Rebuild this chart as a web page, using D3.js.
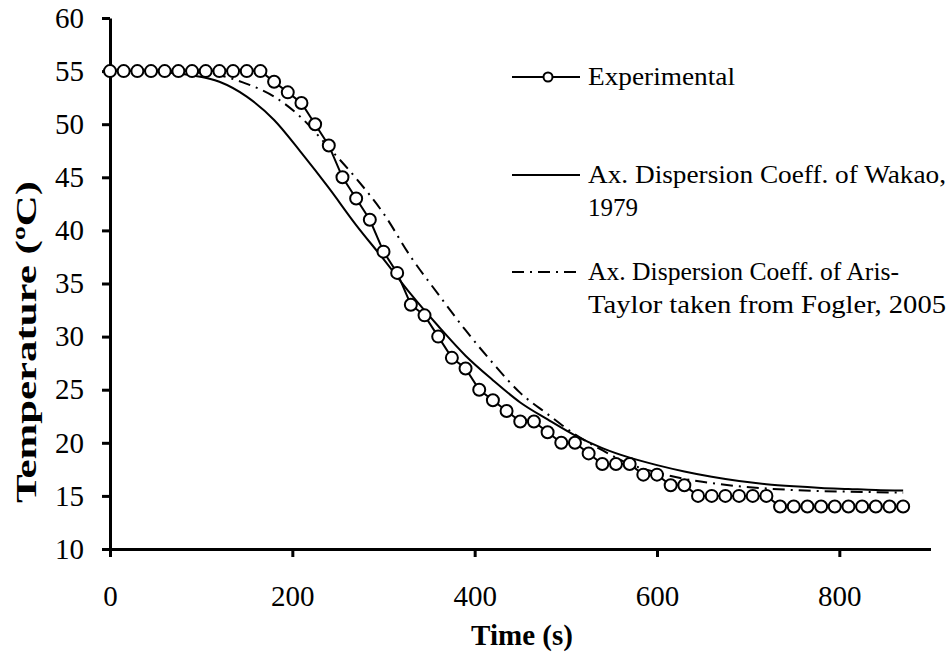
<!DOCTYPE html>
<html>
<head>
<meta charset="utf-8">
<script src="https://cdn.jsdelivr.net/npm/d3@7"></script>
<style>
  html, body { margin: 0; padding: 0; background: #fff; }
  svg { display: block; }
  text { font-family: "Liberation Serif", "Times New Roman", Times, serif; fill: #000; }
</style>
</head>
<body>
<svg id="chart" width="952" height="664"></svg>
<script>
// ---- Data ----
const expTime = [0,15,30,45,60,75,90,105,120,135,150,165,180,195,210,225,240,255,270,285,300,315,330,345,360,375,390,405,420,435,450,465,480,495,510,525,540,555,570,585,600,615,630,645,660,675,690,705,720,735,750,765,780,795,810,825,840,855,870];
const expTemp = [55,55,55,55,55,55,55,55,55,55,55,55,54,53,52,50,48,45,43,41,38,36,33,32,30,28,27,25,24,23,22,22,21,20,20,19,18,18,18,17,17,16,16,15,15,15,15,15,15,14,14,14,14,14,14,14,14,14,14];

const modelTime = [0,30,60,90,120,150,180,210,240,270,300,330,360,390,420,450,480,510,540,570,600,630,660,690,720,750,780,810,840,870];
const wakaoTemp = [55,55,54.9,54.6,54.0,52.6,50.4,47.3,44.0,40.5,37.3,34.0,31.0,28.2,25.9,23.8,22.2,20.7,19.5,18.6,17.9,17.3,16.8,16.4,16.1,15.9,15.75,15.65,15.55,15.5];
const arisTemp  = [55,55,55,54.9,54.6,53.8,52.6,50.6,47.8,44.9,41.6,37.5,34.0,30.6,27.5,24.7,22.7,20.8,19.3,18.0,17.2,16.6,16.2,15.9,15.7,15.55,15.45,15.4,15.35,15.3];

const xTicks = [0,200,400,600,800];
const yTicks = [10,15,20,25,30,35,40,45,50,55,60];

const seriesNames = ["Experimental", "Ax. Dispersion  Coeff. of Wakao,|1979", "Ax. Dispersion  Coeff. of Aris-|Taylor taken from Fogler, 2005"];

// ---- Layout ----
const svg = d3.select("#chart");
const x = d3.scaleLinear().domain([0, 900]).range([110, 930.5]);
const y = d3.scaleLinear().domain([10, 60]).range([549, 18]);

// ---- Axes ----
const xAxis = svg.append("g").attr("transform", `translate(0,${y(10)})`)
  .call(d3.axisBottom(x).tickValues(xTicks).tickSize(8).tickSizeOuter(0).tickPadding(28));
const yAxis = svg.append("g").attr("transform", `translate(${x(0)},0)`)
  .call(d3.axisLeft(y).tickValues(yTicks).tickSize(8).tickSizeOuter(0).tickPadding(18));

[xAxis, yAxis].forEach(g => {
  g.attr("font-family", null).attr("font-size", null);
  g.select(".domain").attr("stroke", "#000").attr("stroke-width", 3);
  g.selectAll(".tick line").attr("stroke", "#000").attr("stroke-width", 3);
  g.selectAll(".tick text").attr("font-size", 29).attr("fill", "#000");
});
xAxis.selectAll(".tick text").attr("dy", "0.71em");

// Axis titles
svg.append("text").attr("x", 522).attr("y", 645).attr("text-anchor", "middle")
  .attr("font-size", 29).attr("font-weight", "bold").text("Time (s)");
svg.append("text").attr("transform", "translate(36,342) rotate(-90)").attr("text-anchor", "middle")
  .attr("font-size", 30).attr("font-weight", "bold")
  .attr("textLength", 322).attr("lengthAdjust", "spacingAndGlyphs")
  .text("Temperature (ºC)");

// ---- Lines ----
const lineGen = d3.line().x(d => x(d[0])).y(d => y(d[1]));
const smooth = d3.line().x(d => x(d[0])).y(d => y(d[1])).curve(d3.curveMonotoneX);

const wakao = modelTime.map((t, i) => [t, wakaoTemp[i]]);
const aris = modelTime.map((t, i) => [t, arisTemp[i]]);
const exp = expTime.map((t, i) => [t, expTemp[i]]);

svg.append("path").datum(wakao).attr("d", smooth)
  .attr("fill", "none").attr("stroke", "#000").attr("stroke-width", 2);
svg.append("path").datum(aris).attr("d", smooth)
  .attr("fill", "none").attr("stroke", "#000").attr("stroke-width", 2)
  .attr("stroke-dasharray", "12,6,2,6");
svg.append("path").datum(exp).attr("d", lineGen)
  .attr("fill", "none").attr("stroke", "#000").attr("stroke-width", 2);
svg.append("g").selectAll("circle").data(exp).join("circle")
  .attr("cx", d => x(d[0])).attr("cy", d => y(d[1])).attr("r", 6)
  .attr("fill", "#fff").attr("stroke", "#000").attr("stroke-width", 2);

// ---- Legend ----
const legend = svg.append("g");
const legY = [77, 175, 272];
const legX1 = 512, legX2 = 580, textX = 588;
const textLens = [[147], [358, 50], [311, 358]];

legend.append("line").attr("x1", legX1).attr("x2", legX2).attr("y1", legY[0]).attr("y2", legY[0])
  .attr("stroke", "#000").attr("stroke-width", 2);
legend.append("circle").attr("cx", 548).attr("cy", legY[0]).attr("r", 4.5)
  .attr("fill", "#fff").attr("stroke", "#000").attr("stroke-width", 2);
legend.append("line").attr("x1", legX1).attr("x2", legX2).attr("y1", legY[1]).attr("y2", legY[1])
  .attr("stroke", "#000").attr("stroke-width", 2);
legend.append("line").attr("x1", legX1).attr("x2", legX2).attr("y1", legY[2]).attr("y2", legY[2])
  .attr("stroke", "#000").attr("stroke-width", 2).attr("stroke-dasharray", "12,6,2,6");

seriesNames.forEach((name, i) => {
  const lines = name.split("|");
  lines.forEach((ln, j) => {
    legend.append("text").attr("x", textX).attr("y", legY[i] + 8 + j * 33)
      .attr("font-size", 25)
      .attr("textLength", textLens[i][j]).attr("lengthAdjust", "spacingAndGlyphs")
      .text(ln);
  });
});
</script>
</body>
</html>
